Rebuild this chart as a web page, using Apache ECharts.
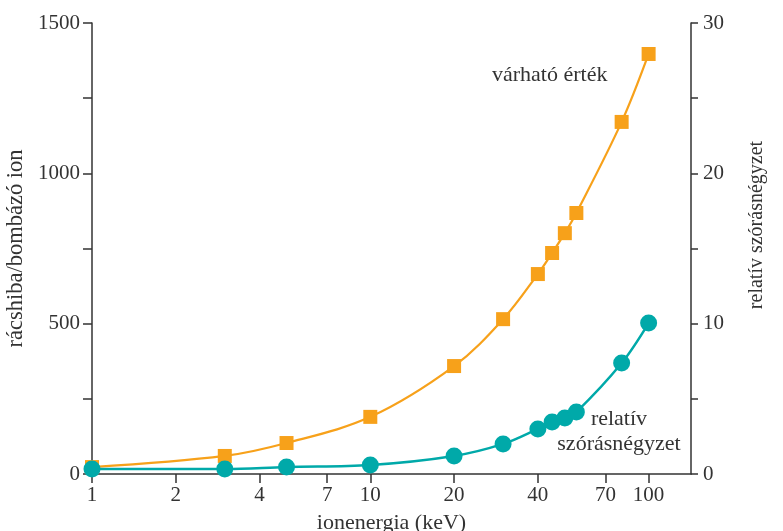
<!DOCTYPE html>
<html>
<head>
<meta charset="utf-8">
<script src="https://cdn.jsdelivr.net/npm/echarts@6/dist/echarts.min.js"></script>
<style>
  html, body { margin: 0; padding: 0; background: #fff; }
  #main { width: 783px; height: 531px; }
</style>
</head>
<body>
<div id="main"></div>
<script>
// ionenergia (keV)
const energy = [1, 3, 5, 10, 20, 30, 40, 45, 50, 55, 80, 100]
// rácshiba/bombázó ion (bal tengely)
const expected = [23, 60, 103, 190, 359, 515, 665, 735, 801, 868, 1171, 1397]
// relatív szórásnégyzet (jobb tengely)
const relVar = [0.33, 0.33, 0.47, 0.6, 1.2, 2.0, 3.0, 3.46, 3.72, 4.12, 7.38, 10.04]
// x tengely feliratai
const xTicks = [1, 2, 4, 7, 10, 20, 40, 70, 100]

const font = 'Liberation Serif'
const txt = '#333'
const orange = '#f7a11a'
const teal = '#00a9a9'

const chart = echarts.init(document.getElementById('main'))

let option = {
  backgroundColor: '#fff',
  animation: false,
  textStyle: { fontFamily: font },
  grid: { left: 92, right: 92, top: 23, bottom: 57, outerBoundsMode: 'none', containLabel: false },
  xAxis: {
    type: 'log',
    min: 1,
    max: 142,
    name: 'ionenergia (keV)',
    nameLocation: 'middle',
    nameGap: 38,
    nameTextStyle: { fontFamily: font, fontSize: 22, color: txt, verticalAlign: 'top' },
    axisLine: { lineStyle: { color: txt, width: 1.5 } },
    axisTick: { length: 9, lineStyle: { color: txt, width: 1.5 }, customValues: xTicks },
    axisLabel: { fontFamily: font, fontSize: 21, color: txt, margin: 11, customValues: xTicks },
    minorTick: { show: false },
    splitLine: { show: false }
  },
  yAxis: [{
    type: 'value',
    min: 0,
    max: 1500,
    interval: 250,
    name: 'rácshiba/bombázó ion',
    nameLocation: 'middle',
    nameGap: 53,
    nameTextStyle: { fontFamily: font, fontSize: 22.5, color: txt },
    axisLine: { show: true, lineStyle: { color: txt, width: 1.5 } },
    axisTick: { show: true, length: 9, lineStyle: { color: txt, width: 1.5 } },
    axisLabel: {
      fontFamily: font, fontSize: 21, color: txt, margin: 12,
      formatter: v => (v % 500 === 0 ? String(v) : '')
    },
    splitLine: { show: false }
  }, {
    type: 'value',
    min: 0,
    max: 30,
    interval: 5,
    position: 'right',
    axisLine: { show: true, lineStyle: { color: txt, width: 1.5 } },
    axisTick: { show: true, length: 7, lineStyle: { color: txt, width: 1.5 } },
    axisLabel: {
      fontFamily: font, fontSize: 21, color: txt, margin: 12,
      formatter: v => (v % 10 === 0 ? String(v) : '')
    },
    splitLine: { show: false }
  }],
  series: [{
    name: 'várható érték',
    type: 'line',
    yAxisIndex: 0,
    smooth: 0.35,
    symbol: 'rect',
    symbolSize: 14,
    data: energy.map((x, i) => [x, expected[i]]),
    lineStyle: { color: orange, width: 2.2 },
    itemStyle: { color: orange },
    z: 3
  }, {
    name: 'relatív szórásnégyzet',
    type: 'line',
    yAxisIndex: 1,
    smooth: 0.35,
    symbol: 'circle',
    symbolSize: 17,
    data: energy.map((x, i) => [x, relVar[i]]),
    lineStyle: { color: teal, width: 2.5 },
    itemStyle: { color: teal },
    z: 4
  }],
  graphic: [{
    // jobb tengely felirata
    type: 'text',
    x: 757,
    y: 225,
    rotation: Math.PI / 2,
    style: {
      text: 'relatív szórásnégyzet',
      font: '20px "Liberation Serif"',
      fill: txt,
      align: 'center',
      verticalAlign: 'middle'
    }
  }, {
    type: 'text',
    left: 492,
    top: 64,
    style: { text: 'várható érték', font: '22px "Liberation Serif"', fill: txt }
  }, {
    type: 'text',
    x: 619,
    y: 407,
    style: {
      text: 'relatív\nszórásnégyzet',
      font: '22px "Liberation Serif"',
      fill: txt,
      align: 'center',
      lineHeight: 25
    }
  }]
}

chart.setOption(option)
</script>
</body>
</html>
